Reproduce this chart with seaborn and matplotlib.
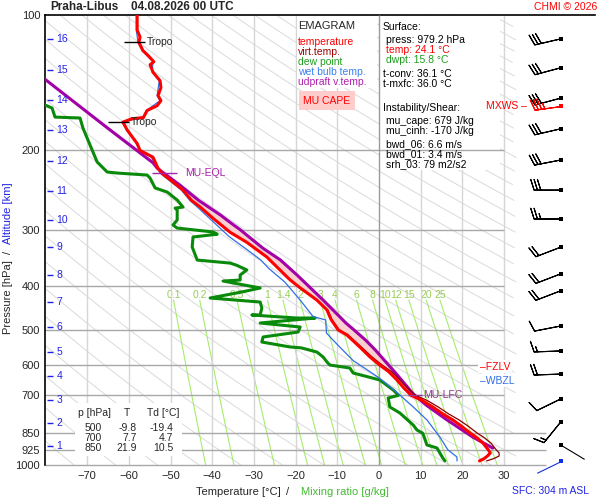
import numpy as np
import matplotlib
matplotlib.use("Agg")
import matplotlib.pyplot as plt
from matplotlib.patches import Rectangle
import seaborn as sns

# temperature profile (hPa, °C)
temp_p = [100, 108, 112, 115, 120, 123, 127, 129, 134, 140, 145, 151, 155, 159, 163, 169, 170, 173,
          180, 193, 200, 207, 219, 225, 235, 245, 258, 267, 283, 304, 320, 345, 369, 388, 404, 430,
          452, 475, 501, 514, 547, 575, 600, 620, 647, 675, 700, 720, 743, 770, 794, 820, 850, 870,
          893, 925, 940, 955, 968, 979.2]
temp_t = [-58.0, -58.0, -57.3, -57.6, -56.6, -55.4, -54.0, -54.9, -54.2, -52.5, -52.3, -53.0, -52.3,
          -53.2, -55.6, -56.5, -59.2, -61.4, -60.4, -58.0, -57.3, -54.2, -53.0, -52.0, -49.4, -47.0,
          -45.0, -42.9, -39.8, -35.7, -31.7, -26.9, -23.7, -21.3, -18.9, -14.9, -12.5, -11.5, -9.8,
          -7.7, -4.6, -2.2, 0.2, 2.3, 4.3, 6.0, 7.7, 10.5, 12.9, 15.3, 17.7, 19.8, 21.9, 23.5, 24.9,
          26.2, 26.7, 26.0, 25.2, 24.1]

# virtual temperature (only visible apart from T in the lower part)
tv_p = [452, 475, 501, 514, 547, 575, 600, 620, 647, 675, 700, 720, 743, 770, 794, 820, 850, 870,
        893, 925, 940, 955, 968, 979.2]
tv_t = [-12.3, -11.3, -9.5, -7.4, -4.2, -1.7, 0.8, 3.0, 5.0, 6.9, 8.8, 11.7, 14.2, 16.7, 19.2, 21.4,
        23.6, 25.3, 26.8, 28.1, 28.8, 28.8, 27.5, 25.8]

# dew point
dew_p = [150, 158.5, 161, 168.6, 169.4, 178.3, 189.6, 212.1, 223.3, 224.5, 226.8, 230.4, 242.3, 247.4,
         257.7, 267.2, 268.6, 271.4, 285.5, 292.9, 297.5, 303.5, 307, 311.4, 327.8, 350.4, 355.9,
         360, 368.6, 378.3, 388.1, 390.1, 404.3, 412.6, 425.5, 434.4, 447.8, 464.2, 464.2, 471.4,
         471.4, 483.6, 493.6, 506.4, 519.5, 533.0, 546.7, 549, 561.0, 575.4, 590, 599.5, 608.8,
         624.6, 636, 647.4, 681.3, 700, 709.9, 743.2, 766.3, 815, 836.1, 850, 902.7, 916.6, 964.7,
         979.2]
dew_t = [-83.0, -80.1, -78.4, -77.7, -71.7, -71.0, -69.8, -67.6, -65.2, -62.8, -55.6, -54.9, -53.7,
         -50.8, -48.4, -47.0, -48.9, -48.4, -48.4, -49.4, -48.4, -39.8, -38.8, -44.6, -44.8, -43.6,
         -35.7, -34.1, -31.7, -33.3, -33.3, -37.4, -28.5, -32.9, -40.5, -28.5, -28.1, -28.5, -30.5,
         -19.7, -15.3, -28.5, -18.9, -19.4, -27.8, -28.1, -21.3, -18.7, -14.9, -13.4, -12.5, -11.8,
         -7.0, -6.2, -2.9, 0.2, 3.4, 4.7, 2.2, 2.6, 5.0, 8.2, 9.1, 10.5, 11.5, 13.9, 15.3, 15.8]

# wet bulb temperature
wb_p = [100, 108, 115, 120, 127, 134, 140, 151, 155, 163, 169, 173, 180, 193, 200, 207, 225, 245,
        258, 267, 289, 311, 333, 350, 366, 392, 430, 468, 476, 509, 528, 547, 586, 614, 642, 699,
        743, 794, 867, 925, 960, 979.2]
wb_t = [-58.2, -58.2, -57.8, -56.8, -54.2, -54.4, -52.7, -53.2, -52.5, -55.8, -56.7, -61.6, -60.6,
        -58.2, -57.5, -54.6, -52.4, -47.4, -45.4, -43.6, -39.6, -35.9, -31.5, -28.4, -26.4, -22.6,
        -18.9, -15.8, -12.8, -12.6, -11.0, -9.4, -6.2, -2.9, 0.2, 5.0, 8.2, 11.5, 14.6, 16.5, 18.7,
        18.7]

# most unstable parcel (updraft virtual temperature)
parcel_p = [130, 178, 213, 219, 239, 258, 278, 289, 300, 330, 350, 378, 430, 484, 501, 528, 555,
            625, 695, 738, 794, 867, 917]
parcel_t = [-84.1, -65.2, -54.2, -53.2, -47.7, -43.3, -38.1, -35.7, -33.3, -27.8, -23.7, -19.7,
            -13.4, -7.9, -6.0, -3.2, -0.9, 4.0, 8.2, 11.5, 16.3, 22.5, 27.3]

lfc_p, eql_p = 699, 224.5
fzlv_p, wbzl_p = 605, 650
tropo_p = [115, 173]
tropo_t = [-57.6, -61.4]

# winds (direction deg, speed kt)
wind_p = [113, 131, 153, 179, 210, 245, 284, 328, 376, 410, 491, 558, 628, 713, 802]
wind_dir = [257, 255, 255, 257, 259, 270, 270, 249, 249, 249, 259, 268, 268, 244, 219]
wind_spd = [30, 30, 30, 30, 30, 30, 25, 20, 20, 20, 10, 15, 20, 10, 15]
mxws_p, mxws_dir, mxws_spd = 159, 262, 35
calm_p, calm_dir = 903, 121
sfc_p, sfc_dir = 979.2, 244

# altitude marks
alt_km = list(range(1, 17))
alt_p = [907, 807, 717, 634, 561, 494, 434, 378, 328, 285.5, 246, 211, 180, 154.5, 132.5, 113]

# mixing ratio lines
mr_vals = [0.1, 0.2, 0.5, 1, 1.4, 2, 3, 4, 6, 8, 10, 12, 15, 20, 25]
mr_labels = ["0.1", "0.2", "0.5", "1", "1.4", "2", "3", "4", "6", "8", "10", "12", "15", "20", "25"]

# small table
table_p = [500, 700, 850]
table_t = [-9.8, 7.7, 21.9]
table_td = [-19.4, 4.7, 10.5]

sns.set_style("white")
plt.rcParams["font.family"] = ["Liberation Sans", "DejaVu Sans"]

W, H = 600, 500
fig = plt.figure(figsize=(6, 5), dpi=100)
ax = fig.add_axes([45 / W, 35 / H, 550 / W, 450 / H])
TMIN, TMAX = -80.1, 51.8


def fx(x):
    return x / W


def fy(y):
    return 1 - y / H


RED, DRED, GREEN, BLUE, PURP = "#ff0000", "#8b0000", "#0a8a0a", "#2f6fe8", "#a300a8"

# dry adiabats
pp = np.geomspace(100, 1000, 200)
for theta in np.arange(190, 610, 10):
    t = theta * (pp / 1000) ** 0.286 - 273.15
    t = np.where(t <= 33, t, np.nan)
    ax.plot(t, pp, color="#dadada", lw=0.7, zorder=1)


def mr_temp(w, p):
    e = w * p / (622 + w)
    a = np.log(e / 6.112)
    return 243.5 * a / (17.67 - a)


pm = np.geomspace(430, 1000, 50)
for w, lab in zip(mr_vals, mr_labels):
    ax.plot(mr_temp(w, pm), pm, color="#a6ec6e", lw=0.8, zorder=1.2)
    ax.text(mr_temp(w, 430), 419, lab, color="#99cc55", fontsize=7.5,
            ha="center", va="center", zorder=1.3)

# grid
for t in range(-70, 40, 10):
    if t == 0:
        ax.vlines(t, 100, 1000, color="#9a9a9a", lw=1, zorder=3.2)
    else:
        ax.vlines(t, 100, 1000, color="#d6d6d6", lw=1, zorder=1.5)
for p in [200, 300, 400, 500, 600, 700]:
    ax.hlines(p, TMIN, 30, color="#a8a8a8", lw=1, zorder=2.5)
for p in [850, 925, 1000]:
    ax.hlines(p, TMIN, 40, color="#a8a8a8", lw=1, zorder=2.5, clip_on=False)

# boxes
ax.add_patch(Rectangle((fx(380), fy(170)), 120 / W, 154 / H, transform=fig.transFigure,
                       facecolor="white", edgecolor="none", zorder=2))
ax.add_patch(Rectangle((fx(297), fy(88)), 80 / W, 72 / H, transform=fig.transFigure,
                       facecolor="white", edgecolor="none", zorder=2))
ax.add_patch(Rectangle((fx(75), fy(456)), 107 / W, 53 / H, transform=fig.transFigure,
                       facecolor="white", edgecolor="none", zorder=3))

# CAPE shading
pg = np.geomspace(eql_p, lfc_p, 300)
tg = np.interp(np.log(pg), np.log(temp_p), temp_t)
parg = np.interp(np.log(pg), np.log(parcel_p), parcel_t)
ax.fill_betweenx(pg, tg, parg, where=parg > tg, color="#fbcfcf", lw=0, zorder=3.5)

# profiles
sns.lineplot(x=np.array(dew_t), y=np.array(dew_p), sort=False, estimator=None,
             color=GREEN, linewidth=2.2, ax=ax, zorder=4)
sns.lineplot(x=np.array(wb_t), y=np.array(wb_p), sort=False, estimator=None,
             color=BLUE, linewidth=0.9, ax=ax, zorder=4.3)
sns.lineplot(x=np.array(parcel_t), y=np.array(parcel_p), sort=False, estimator=None,
             color=PURP, linewidth=2.2, ax=ax, zorder=4.6)
sns.lineplot(x=np.array(tv_t), y=np.array(tv_p), sort=False, estimator=None,
             color=DRED, linewidth=0.9, ax=ax, zorder=4.8)
sns.lineplot(x=np.array(temp_t), y=np.array(temp_p), sort=False, estimator=None,
             color=RED, linewidth=2.2, ax=ax, zorder=5)

ax.set_yscale("log")
ax.set_xlim(TMIN, TMAX)
ax.set_ylim(1000, 100)
ax.set_xlabel("")
ax.set_ylabel("")

# markers on the profile
for p, t in zip(tropo_p, tropo_t):
    ax.hlines(p, t - 3.6, t + 1.5, color="black", lw=1, zorder=6)
    ax.text(t + 2.0, p, "Tropo", fontsize=7.5, va="center", ha="left", zorder=6)
ax.hlines(eql_p, -54.4, -48.4, color="#aa22aa", lw=1, zorder=6)
ax.text(-46.5, eql_p, "MU-EQL", color="#aa22aa", fontsize=7.5, va="center", zorder=6)
ax.hlines(lfc_p, 7.0, 10.3, color="#993399", lw=1, zorder=6)
ax.text(10.6, lfc_p, "MU-LFC", color="#993399", fontsize=7.5, va="center", zorder=6)
ax.text(24.2, fzlv_p, "–FZLV", color=RED, fontsize=7.5, va="center", zorder=6,
        bbox=dict(boxstyle="square,pad=0.15", fc="white", ec="none"))
ax.text(24.2, wbzl_p, "–WBZL", color=BLUE, fontsize=7.5, va="center", zorder=6,
        bbox=dict(boxstyle="square,pad=0.15", fc="white", ec="none"))

# altitude marks
ax.hlines(alt_p, -79.6, -78.2, color="#2323e6", lw=1, zorder=5)
for km, p in zip(alt_km, alt_p):
    ax.text(-77.4, p, str(km), color="#2323e6", fontsize=7.5, va="center", ha="left", zorder=5)

# wind barbs
BX = 43.6
d = np.deg2rad(wind_dir)
u = -np.array(wind_spd) * np.sin(d)
v = -np.array(wind_spd) * np.cos(d)
bx = np.full(len(wind_p), BX)
ax.barbs(bx, wind_p, u, v, length=6.2, pivot="tip", linewidth=0.8, color="black", zorder=6,
         clip_on=False)
ax.scatter(bx, wind_p, marker="s", s=5, color="black", zorder=7, linewidths=0)
dm = np.deg2rad(mxws_dir)
ax.barbs([BX], [mxws_p], [-mxws_spd * np.sin(dm)], [-mxws_spd * np.cos(dm)], length=6.2,
         pivot="tip", linewidth=0.8, color=RED, zorder=6, clip_on=False)
ax.scatter([BX], [mxws_p], marker="s", s=5, color=RED, zorder=7, linewidths=0)
ax.text(35.5, mxws_p, "MXWS –", color=RED, fontsize=7.5, va="center", ha="right", zorder=6)
for p, dd, col in [(calm_p, calm_dir, "black"), (sfc_p, sfc_dir, "#1030e0")]:
    r = np.deg2rad(dd)
    ax.quiver([BX], [p], [-np.sin(r)], [-np.cos(r)], angles="uv", pivot="tip",
              scale=1 / 0.27, scale_units="inches", units="dots", width=1.1,
              headwidth=0, headlength=0, headaxislength=0, color=col, zorder=6,
              clip_on=False)
    ax.scatter([BX], [p], marker="s", s=5, color=col, zorder=7, linewidths=0, clip_on=False)

# axes styling
ax.set_yticks([100, 200, 300, 400, 500, 600, 700, 850, 925, 1000],
              ["100", "200", "300", "400", "500", "600", "700", "850", "925", "1000"])
ax.yaxis.set_minor_locator(matplotlib.ticker.NullLocator())
ax.set_xticks(range(-70, 40, 10))
ax.tick_params(axis="both", length=0, labelsize=8)
ax.tick_params(axis="y", pad=3.5)
ax.tick_params(axis="x", pad=4.5)
for s in ["right", "bottom"]:
    ax.spines[s].set_visible(False)
for s in ["left", "top"]:
    ax.spines[s].set_color("black")
    ax.spines[s].set_linewidth(1.2)
ax.grid(False)

# texts around
fig.text(fx(50), fy(7), "Praha-Libus", fontsize=8.5, fontweight="bold", va="center")
fig.text(fx(131), fy(7), "04.08.2026 00 UTC", fontsize=8.5, fontweight="bold", va="center")
fig.text(fx(597), fy(7), "CHMI © 2026", fontsize=7.5, color=RED, ha="right", va="center")

fig.text(fx(298), fy(26), "EMAGRAM", fontsize=8, va="center")
for yy, s, c in [(42, "temperature", RED), (52, "virt.temp.", "#a00000"), (62, "dew point", "#1e9e1e"),
                 (72, "wet bulb temp.", "#3a80f0"), (82, "udpraft v.temp.", "#b020b0")]:
    fig.text(fx(298), fy(yy), s, fontsize=7.5, color=c, va="center")
fig.text(fx(327), fy(100.5), "MU CAPE", fontsize=7.5, color=RED, ha="center", va="center",
         bbox=dict(boxstyle="square,pad=0.4", fc="#ffcccc", ec="none"))

info = [(27, 383, "Surface:", "black"), (40, 386, "press: 979.2 hPa", "black"),
        (50, 386, "temp: 24.1 °C", RED), (60, 386, "dwpt: 15.8 °C", "#1e9e1e"),
        (74, 383, "t-conv: 36.1 °C", "black"), (84, 383, "t-mxfc: 36.0 °C", "black"),
        (108, 383, "Instability/Shear:", "black"), (120.5, 386, "mu_cape: 679 J/kg", "black"),
        (130.5, 386, "mu_cinh: -170 J/kg", "black"), (144, 386, "bwd_06: 6.6 m/s", "black"),
        (154, 386, "bwd_01: 3.4 m/s", "black"), (164, 386, "srh_03: 79 m2/s2", "black")]
for yy, xx, s, c in info:
    fig.text(fx(xx), fy(yy), s, fontsize=7.5, color=c, va="center")

# table
fig.text(fx(78), fy(413), "p [hPa]", fontsize=7.5, va="center")
fig.text(fx(127), fy(413), "T", fontsize=7.5, va="center", ha="center")
fig.text(fx(147), fy(413), "Td [°C]", fontsize=7.5, va="center")
for i, (p, t, td) in enumerate(zip(table_p, table_t, table_td)):
    yy = 428.3 + 10 * i
    fig.text(fx(102), fy(yy), f"{p}", fontsize=7.5, va="center", ha="right")
    fig.text(fx(137), fy(yy), f"{t:.1f}", fontsize=7.5, va="center", ha="right")
    fig.text(fx(173), fy(yy), f"{td:.1f}", fontsize=7.5, va="center", ha="right")

# axis titles
fig.text(fx(8), fy(297), "Pressure [hPa]", fontsize=8, rotation=90, ha="center", va="center")
fig.text(fx(8), fy(252), "/", fontsize=8, rotation=90, ha="center", va="center")
fig.text(fx(8), fy(213), "Altitude [km]", fontsize=8, rotation=90, ha="center", va="center",
         color="#2323e6")
fig.text(fx(238.5), fy(492), "Temperature [°C]", fontsize=8, ha="center", va="center")
fig.text(fx(288), fy(492), "/", fontsize=8, ha="center", va="center")
fig.text(fx(345), fy(492), "Mixing ratio [g/kg]", fontsize=8, ha="center", va="center",
         color="#44bb33")
fig.text(fx(551), fy(491), "SFC: 304 m ASL", fontsize=7.5, ha="center", va="center",
         color="#2323e6")

fig.savefig("out.png", dpi=100)
